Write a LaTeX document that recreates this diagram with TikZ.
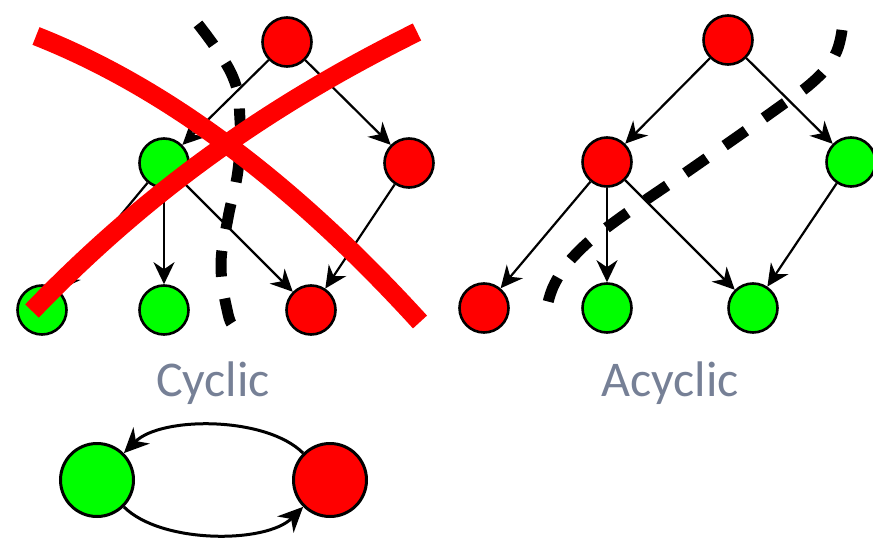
\documentclass[tikz,border=0pt]{standalone}
\usepackage{fontspec}
\setmainfont{Carlito}
\usetikzlibrary{arrows.meta}
\definecolor{nodered}{RGB}{255,0,0}
\definecolor{nodegreen}{RGB}{0,255,0}
\definecolor{labelgray}{RGB}{118,128,150}

\begin{document}
\begin{tikzpicture}[x=1pt,y=1pt,
  vertex/.style={circle, draw=black, line width=2.6pt, minimum size=49pt, inner sep=0pt},
  bigvertex/.style={circle, draw=black, line width=3pt, minimum size=73pt, inner sep=0pt},
  redv/.style={vertex, fill=nodered},
  greenv/.style={vertex, fill=nodegreen},
  edge/.style={line width=2.2pt, -{Stealth[length=22pt,width=21pt,inset=7pt]}},
  cyc/.style={line width=3pt, -{Stealth[length=25pt,width=23pt,inset=8pt]}, looseness=0.75},
  cut/.style={line width=11pt, dash pattern=on 26pt off 22pt},
  cross/.style={draw=nodered, line width=19pt},
  caption/.style={text=labelgray, font=\fontsize{50}{54}\selectfont, anchor=base}
]
\useasboundingbox (0,0) rectangle (873,-548);

% cyclic graph
\node[redv]   (a1) at (287,-42)  {};
\node[greenv] (b1) at (164,-163) {};
\node[redv]   (c1) at (409,-163) {};
\node[greenv] (d1) at (42,-310)  {};
\node[greenv] (e1) at (164,-310) {};
\node[redv]   (f1) at (311,-310) {};
\draw[edge] (a1) -- (b1);
\draw[edge] (a1) -- (c1);
\draw[edge] (b1) -- (d1);
\draw[edge] (b1) -- (e1);
\draw[edge] (b1) -- (f1);
\draw[edge] (c1) -- (f1);

% acyclic graph
\node[redv]   (a2) at (728,-40)  {};
\node[redv]   (b2) at (607,-162) {};
\node[greenv] (c2) at (851,-162) {};
\node[redv]   (d2) at (484,-308) {};
\node[greenv] (e2) at (607,-308) {};
\node[greenv] (f2) at (753,-308) {};
\draw[edge] (a2) -- (b2);
\draw[edge] (a2) -- (c2);
\draw[edge] (b2) -- (d2);
\draw[edge] (b2) -- (e2);
\draw[edge] (b2) -- (f2);
\draw[edge] (c2) -- (f2);

% cuts
\draw[cut] plot[smooth, tension=0.7] coordinates {(198,-24) (232,-75) (240,-120) (238,-170) (228,-218) (221,-266) (228,-314) (234,-326)};
\draw[cut] plot[smooth, tension=0.7] coordinates {(842,-30) (835,-55) (815,-80) (775,-110) (694,-167) (613,-223) (575,-255) (555,-283) (547,-307)};

% crossing out the cyclic graph
\draw[cross] (36,-36) .. controls (178,-92) and (306,-197) .. (420,-322);
\draw[cross] (417,-32) .. controls (288,-96) and (160,-178) .. (32,-311);

% captions
\node[caption] (cyclabel) at (213,-396) {Cyclic};
\node[caption] (acyclabel) at (670,-396) {Acyclic};

% two-node cycle
\node[bigvertex, fill=nodegreen] (g) at (97,-480) {};
\node[bigvertex, fill=nodered]   (r) at (330,-480) {};
\draw[cyc] (r) to[out=135,in=45] (g);
\draw[cyc] (g) to[out=-45,in=-135] (r);
\end{tikzpicture}
\end{document}
